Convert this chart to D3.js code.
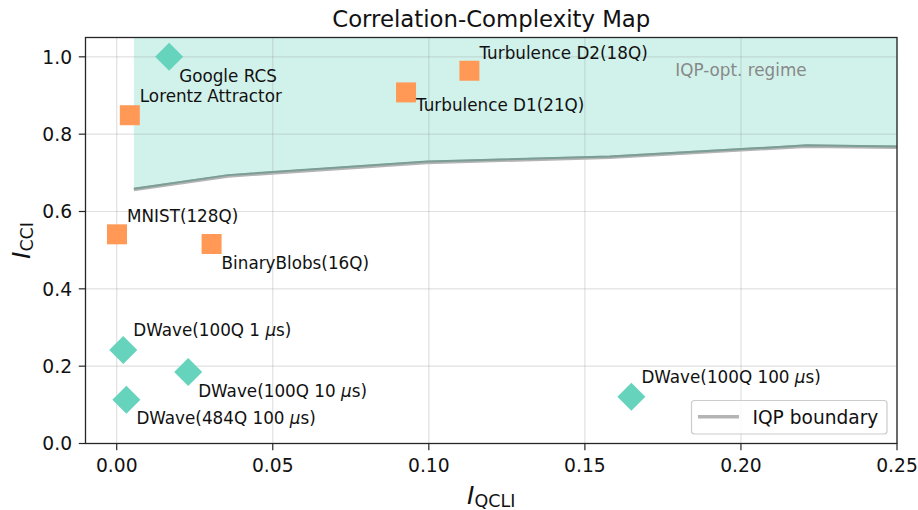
<!DOCTYPE html>
<html>
<head>
<meta charset="utf-8">
<script src="https://cdn.jsdelivr.net/npm/d3@7/dist/d3.min.js"></script>
<style>
    body { margin: 0; background: #fff; }
    text { font-family: "DejaVu Sans", sans-serif; }
</style>
</head>
<body>
<script>
// datasets
var names = ["Google RCS", "Lorentz Attractor", "Turbulence D1(21Q)", "Turbulence D2(18Q)",
    "MNIST(128Q)", "BinaryBlobs(16Q)", "DWave(100Q 1 μs)", "DWave(100Q 10 μs)",
    "DWave(484Q 100 μs)", "DWave(100Q 100 μs)"];
var qcli = [0.0168, 0.0042, 0.0927, 0.1130, 0.0001, 0.0304, 0.0021, 0.0229, 0.0031, 0.1649];
var cci = [1.000, 0.849, 0.908, 0.964, 0.541, 0.516, 0.242, 0.185, 0.113, 0.121];
var kind = ["diamond", "square", "square", "square", "square", "square",
    "diamond", "diamond", "diamond", "diamond"];

// IQP boundary
var boundaryX = [0.0055, 0.0357, 0.0994, 0.158, 0.221, 0.25];
var boundaryY = [0.657, 0.692, 0.727, 0.740, 0.769, 0.766];

var xTicks = [0.00, 0.05, 0.10, 0.15, 0.20, 0.25];
var yTicks = [0.0, 0.2, 0.4, 0.6, 0.8, 1.0];

// label offsets (px from marker centre)
var labelDy = [25, -13, 19, -12, -12, 25, -14, 25, 24, -14];

function init() {
    var w = 918;
    var h = 510;
    var left = 85.5, right = 897, top = 37.5, bottom = 443.5;

    var x = d3.scaleLinear().domain([-0.01, 0.25]).range([left, right]);
    var y = d3.scaleLinear().domain([0, 1.05]).range([bottom, top]);

    var svg = d3.select("body")
        .append("svg")
        .attr("width", w)
        .attr("height", h);

    var boundary = boundaryX.map(function (v, i) { return [v, boundaryY[i]]; });

    // shaded regime
    var area = d3.area()
        .x(function (d) { return x(d[0]); })
        .y0(function (d) { return y(d[1]); })
        .y1(y(1.05));
    svg.append("path")
        .datum(boundary)
        .attr("d", area)
        .attr("fill", "#66d3bd")
        .attr("fill-opacity", 0.3);

    // grid
    svg.selectAll(".gx")
        .data(xTicks)
        .enter()
        .append("line")
        .attr("x1", function (d) { return x(d); })
        .attr("x2", function (d) { return x(d); })
        .attr("y1", top)
        .attr("y2", bottom)
        .attr("stroke", "#999")
        .attr("stroke-opacity", 0.3)
        .attr("stroke-width", 1.2);
    svg.selectAll(".gy")
        .data(yTicks)
        .enter()
        .append("line")
        .attr("y1", function (d) { return y(d); })
        .attr("y2", function (d) { return y(d); })
        .attr("x1", left)
        .attr("x2", right)
        .attr("stroke", "#999")
        .attr("stroke-opacity", 0.3)
        .attr("stroke-width", 1.2);

    // boundary line
    var line = d3.line()
        .x(function (d) { return x(d[0]); })
        .y(function (d) { return y(d[1]); });
    svg.append("path")
        .datum(boundary)
        .attr("d", line)
        .attr("fill", "none")
        .attr("stroke", "#b4b4b4")
        .attr("stroke-width", 3.5);
    svg.append("path")
        .datum(boundary)
        .attr("d", line)
        .attr("transform", "translate(0,-0.8)")
        .attr("fill", "none")
        .attr("stroke", "#7a9e96")
        .attr("stroke-width", 2);

    svg.append("text")
        .attr("x", x(0.2))
        .attr("y", y(0.965))
        .attr("dy", "0.36em")
        .attr("text-anchor", "middle")
        .attr("font-size", "16.8px")
        .attr("fill", "#888")
        .text("IQP-opt. regime");

    // markers
    var pts = names.map(function (n, i) {
        return { name: n, x: qcli[i], y: cci[i], kind: kind[i], dy: labelDy[i] };
    });

    svg.selectAll(".pt")
        .data(pts)
        .enter()
        .append("path")
        .attr("d", function (d) {
            return d3.symbol(d3.symbolSquare).size(d.kind == "square" ? 400 : 392)();
        })
        .attr("transform", function (d) {
            return "translate(" + x(d.x) + "," + y(d.y) + ")" + (d.kind == "diamond" ? " rotate(45)" : "");
        })
        .attr("fill", function (d) { return d.kind == "square" ? "#ff9955" : "#66d3bd"; });

    var lbl = svg.selectAll(".lbl")
        .data(pts)
        .enter()
        .append("text")
        .attr("x", function (d) { return x(d.x) + 10; })
        .attr("y", function (d) { return y(d.y) + d.dy; })
        .attr("font-size", "16.8px")
        .attr("fill", "#111");
    lbl.each(function (d) {
        var t = d3.select(this);
        var parts = d.name.split("μ");
        t.append("tspan").text(parts[0]);
        if (parts.length > 1) {
            t.append("tspan").attr("font-style", "italic").text("μ");
            t.append("tspan").text(parts[1]);
        }
    });

    // frame
    svg.append("rect")
        .attr("x", left)
        .attr("y", top)
        .attr("width", right - left)
        .attr("height", bottom - top)
        .attr("fill", "none")
        .attr("stroke", "#262626")
        .attr("stroke-width", 1.3);

    // ticks
    svg.selectAll(".tx")
        .data(xTicks)
        .enter()
        .append("line")
        .attr("x1", function (d) { return x(d); })
        .attr("x2", function (d) { return x(d); })
        .attr("y1", bottom)
        .attr("y2", bottom + 6.7)
        .attr("stroke", "#262626")
        .attr("stroke-width", 1.2);
    svg.selectAll(".txl")
        .data(xTicks)
        .enter()
        .append("text")
        .attr("x", function (d) { return x(d); })
        .attr("y", 472)
        .attr("text-anchor", "middle")
        .attr("font-size", "18.7px")
        .attr("fill", "#111")
        .text(d3.format(".2f"));
    svg.selectAll(".ty")
        .data(yTicks)
        .enter()
        .append("line")
        .attr("y1", function (d) { return y(d); })
        .attr("y2", function (d) { return y(d); })
        .attr("x1", left - 6.7)
        .attr("x2", left)
        .attr("stroke", "#262626")
        .attr("stroke-width", 1.2);
    svg.selectAll(".tyl")
        .data(yTicks)
        .enter()
        .append("text")
        .attr("x", left - 13.4)
        .attr("y", function (d) { return y(d); })
        .attr("dy", "0.36em")
        .attr("text-anchor", "end")
        .attr("font-size", "18.7px")
        .attr("fill", "#111")
        .text(d3.format(".1f"));

    // title + axis labels
    svg.append("text")
        .attr("x", (left + right) / 2)
        .attr("y", 26.5)
        .attr("text-anchor", "middle")
        .attr("font-size", "22.8px")
        .attr("fill", "#111")
        .text("Correlation-Complexity Map");

    var xl = svg.append("text")
        .attr("x", (left + right) / 2)
        .attr("y", 504)
        .attr("text-anchor", "middle")
        .attr("fill", "#111");
    xl.append("tspan").attr("font-size", "25px").attr("font-style", "italic").text("I");
    xl.append("tspan").attr("font-size", "17.5px").attr("dy", 3).text("QCLI");

    var yl = svg.append("text")
        .attr("transform", "translate(30," + (top + bottom) / 2 + ") rotate(-90)")
        .attr("text-anchor", "middle")
        .attr("fill", "#111");
    yl.append("tspan").attr("font-size", "25px").attr("font-style", "italic").text("I");
    yl.append("tspan").attr("font-size", "17.5px").attr("dy", 3).text("CCI");

    // legend
    var lg = svg.append("g");
    lg.append("rect")
        .attr("x", 691.5)
        .attr("y", 400.5)
        .attr("width", 195.5)
        .attr("height", 33.5)
        .attr("rx", 3)
        .attr("fill", "#fff")
        .attr("fill-opacity", 0.8)
        .attr("stroke", "#cccccc")
        .attr("stroke-width", 1.2);
    lg.append("line")
        .attr("x1", 698)
        .attr("x2", 739)
        .attr("y1", 416.7)
        .attr("y2", 416.7)
        .attr("stroke", "#b4b4b4")
        .attr("stroke-width", 3.5);
    lg.append("text")
        .attr("x", 752.5)
        .attr("y", 423.5)
        .attr("font-size", "18.6px")
        .attr("fill", "#111")
        .text("IQP boundary");
}

window.onload = init;
</script>
</body>
</html>
